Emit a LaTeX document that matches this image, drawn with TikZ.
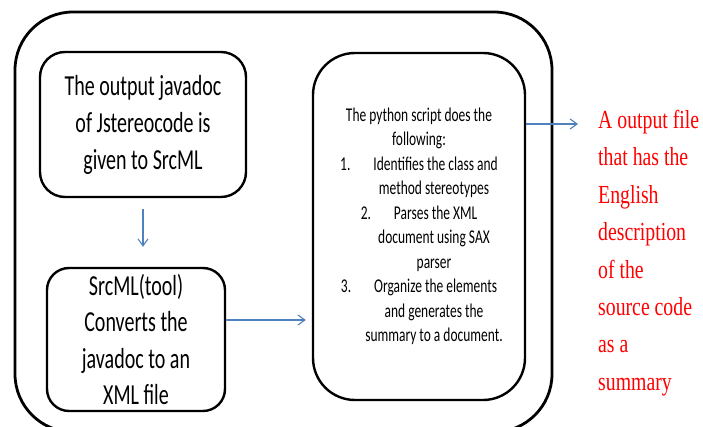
\documentclass[tikz,border=0pt]{standalone}
\usepackage{fontspec}
\usetikzlibrary{arrows.meta}
\newfontfamily\calfont[FakeStretch=0.69]{Carlito}
\newfontfamily\timesfont[FakeStretch=0.76]{Liberation Serif}
\definecolor{flowblue}{HTML}{4F81BD}
\begin{document}
\begin{tikzpicture}[x=1pt,y=-1pt]
            \tikzset{box/.style = {shape=rectangle,draw,line width=2.4pt,align=center,inner sep=0pt}}
            \tikzset{edge/.style = {draw=flowblue,line width=1.1pt,-{Straight Barb[length=7pt,width=10pt]}}}
            \useasboundingbox (0,0) rectangle (703,427);
            \clip (0,0) rectangle (703,427);
            \draw[line width=2.8pt, rounded corners=58pt] (15,12) rectangle (552,432);
            \node[box, rounded corners=25pt, minimum width=206pt, minimum height=145pt, font=\calfont\fontsize{29}{37}\selectfont] (javadoc) at (143,124.5) {The output javadoc\\of Jstereocode is\\given to SrcML};
            \node[box, rounded corners=22pt, minimum width=178pt, minimum height=143pt, font=\calfont\fontsize{29}{36.5}\selectfont] (srcml) at (136,339.5) {SrcML(tool)\\Converts the\\javadoc to an\\XML file};
            \node[box, rounded corners=42pt, minimum width=212pt, minimum height=347pt, font=\calfont\fontsize{19.5}{24.5}\selectfont] (script) at (419,226.5) {The python script does the\\following:\\1.\hspace{23pt}Identifies the class and\\\hspace*{30pt}method stereotypes\\2.\hspace{23pt}Parses the XML\\\hspace*{30pt}document using SAX\\\hspace*{30pt}parser\\3.\hspace{23pt}Organize the elements\\\hspace*{30pt}and generates the\\\hspace*{30pt}summary to a document.};
            \node[anchor=north west, inner sep=0pt, align=left, text=red, font=\timesfont\fontsize{26}{37.4}\selectfont] (summary) at (598,110) {A output file\\that has the\\English\\description\\of the\\source code\\as a\\summary};
            \coordinate (srcout) at ([yshift=19.5pt]srcml.east);
            \coordinate (tip) at (578,124);
            \draw[edge,shorten <=11pt,shorten >=20pt] (javadoc.south) -- (javadoc.south |- srcml.north);
            \draw[edge,shorten >=6pt] (srcout) -- (srcout -| script.west);
            \draw[edge] (script.east |- tip) -- (tip);
          \end{tikzpicture}
\end{document}
